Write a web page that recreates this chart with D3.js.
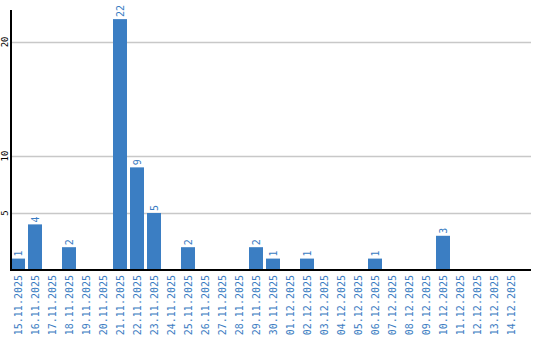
<!DOCTYPE html>
<html>
<head>
<meta charset="utf-8">
<script src="https://cdn.jsdelivr.net/npm/d3@7"></script>
<style>
    body { margin: 0; background: #fff; }
    text { font-family: "DejaVu Sans Mono", monospace; }
</style>
</head>
<body>
<svg id="chart" width="540" height="340"></svg>
<script>
    /**
     * Data.
     */
    const days = ['15.11.2025', '16.11.2025', '17.11.2025', '18.11.2025', '19.11.2025', '20.11.2025',
        '21.11.2025', '22.11.2025', '23.11.2025', '24.11.2025', '25.11.2025', '26.11.2025',
        '27.11.2025', '28.11.2025', '29.11.2025', '30.11.2025', '01.12.2025', '02.12.2025',
        '03.12.2025', '04.12.2025', '05.12.2025', '06.12.2025', '07.12.2025', '08.12.2025',
        '09.12.2025', '10.12.2025', '11.12.2025', '12.12.2025', '13.12.2025', '14.12.2025'];
    const counts = [1, 4, 0, 2, 0, 0, 22, 9, 5, 0, 2, 0, 0, 0, 2, 1, 0, 1, 0, 0, 0, 1, 0, 0, 0, 3, 0, 0, 0, 0];
    const yTicks = [5, 10, 20];

    /**
     * Visual configs.
     */
    const left = 11, baseY = 270, topY = 10, gridRight = 531,
        barColor = '#3b7ec3', textColor = '#3a7cc2';

    const svg = d3.select('#chart');

    const x = d3.scaleBand().domain(days).range([left, left + 507])
        .paddingInner(3 / 17).paddingOuter(0);
    const y = d3.scaleLinear().domain([0, 22.8]).range([baseY, topY]);

    // Grid lines
    svg.append('g').attr('class', 'grid')
        .selectAll('line').data(yTicks).enter().append('line')
        .attr('x1', left).attr('x2', gridRight)
        .attr('y1', d => Math.round(y(d)) + 0.5).attr('y2', d => Math.round(y(d)) + 0.5)
        .attr('stroke', '#c8c8c8').attr('stroke-width', 1.3);

    // Y tick labels (rotated)
    svg.append('g').attr('class', 'y-labels')
        .selectAll('text').data(yTicks).enter().append('text')
        .attr('transform', d => 'translate(8,' + y(d) + ') rotate(-90)')
        .attr('text-anchor', 'middle')
        .attr('font-size', 9)
        .attr('fill', '#000')
        .text(d => d);

    // Bars
    const data = days.map((d, i) => ({ day: d, value: counts[i] }));
    svg.append('g').attr('class', 'bars')
        .selectAll('rect').data(data.filter(d => d.value > 0)).enter().append('rect')
        .attr('x', d => x(d.day))
        .attr('y', d => y(d.value))
        .attr('width', x.bandwidth())
        .attr('height', d => baseY - y(d.value))
        .attr('fill', barColor);

    // Value labels
    svg.append('g').attr('class', 'values')
        .selectAll('text').data(data.filter(d => d.value > 0)).enter().append('text')
        .attr('transform', d => 'translate(' + (x(d.day) + x.bandwidth() / 2 + 3.5) + ',' + (y(d.value) - 2) + ') rotate(-90)')
        .attr('text-anchor', 'start')
        .attr('font-size', 10)
        .attr('fill', textColor)
        .text(d => d.value);

    // Axes lines
    svg.append('line')
        .attr('x1', left).attr('x2', left).attr('y1', topY).attr('y2', baseY + 1)
        .attr('stroke', '#000').attr('stroke-width', 2);
    svg.append('line')
        .attr('x1', left).attr('x2', gridRight).attr('y1', baseY).attr('y2', baseY)
        .attr('stroke', '#000').attr('stroke-width', 2);

    // X labels (rotated)
    svg.append('g').attr('class', 'x-labels')
        .selectAll('text').data(days).enter().append('text')
        .attr('transform', d => 'translate(' + (x(d) + x.bandwidth() / 2 + 3.5) + ',' + (baseY + 5) + ') rotate(-90)')
        .attr('text-anchor', 'end')
        .attr('font-size', 10)
        .attr('fill', textColor)
        .text(d => d);
</script>
</body>
</html>
